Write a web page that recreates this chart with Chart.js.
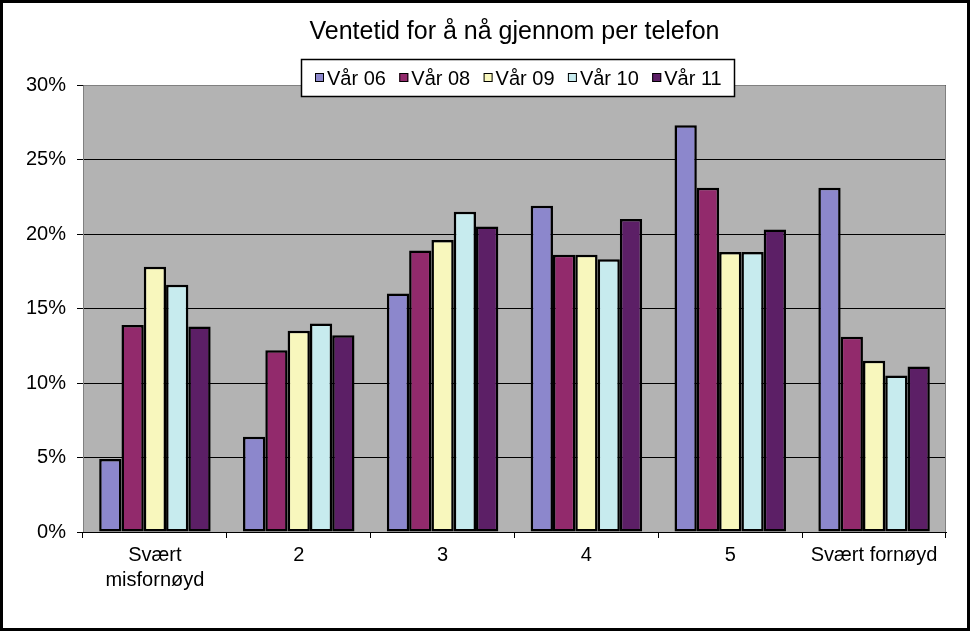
<!DOCTYPE html>
<html lang="no">
<head>
  <meta charset="UTF-8">
  <title>Ventetid for å nå gjennom per telefon</title>
  <style>
    * { margin:0; padding:0; box-sizing:border-box; }
    body { background:#fff; width:970px; height:631px; overflow:hidden; }
    #wrap { position:relative; width:970px; height:631px; }
  </style>
  <script src="https://cdn.jsdelivr.net/npm/chart.js"></script>
</head>
<body>
  <div id="wrap"><canvas id="chart" width="970" height="631"></canvas></div>

  <script>
    const titleText = 'Ventetid for å nå gjennom per telefon';
    const categories = [['Svært', 'misfornøyd'], '2', '3', '4', '5', 'Svært fornøyd'];
    const seriesNames = ['Vår 06', 'Vår 08', 'Vår 09', 'Vår 10', 'Vår 11'];
    const var06 = [4.9, 6.4, 16.0, 21.9, 27.3, 23.1];
    const var08 = [13.9, 12.2, 18.9, 18.6, 23.1, 13.1];
    const var09 = [17.8, 13.5, 19.6, 18.6, 18.8, 11.5];
    const var10 = [16.6, 14.0, 21.5, 18.3, 18.8, 10.5];
    const var11 = [13.8, 13.2, 20.5, 21.0, 20.3, 11.1];
    const colors = ['#8C87CC', '#922A6C', '#F8F7BD', '#C7EBEE', '#5C1F66'];

    const FONT = '"Liberation Sans", Arial, sans-serif';
    const allSeries = [var06, var08, var09, var10, var11];

    // plot background, title, legend box and outer frame
    const decor = {
      id: 'decor',
      beforeDraw(chart) {
        const { ctx, chartArea: a } = chart;
        ctx.save();
        ctx.fillStyle = '#fff';
        ctx.fillRect(0, 0, chart.width, chart.height);
        ctx.fillStyle = '#B3B3B3';
        ctx.fillRect(a.left, a.top, a.right - a.left, a.bottom - a.top);
        ctx.restore();
      },
      beforeDatasetsDraw(chart) {
        const { ctx, chartArea: a } = chart;
        ctx.save();
        ctx.strokeStyle = '#808080';
        ctx.lineWidth = 1;
        ctx.beginPath();
        ctx.moveTo(a.left + 0.5, a.bottom);
        ctx.lineTo(a.left + 0.5, a.top + 0.5);
        ctx.lineTo(a.right - 0.5, a.top + 0.5);
        ctx.lineTo(a.right - 0.5, a.bottom);
        ctx.stroke();
        ctx.restore();
      },
      afterDraw(chart) {
        const { ctx, chartArea: a } = chart;
        const cx = (a.left + a.right) / 2;
        ctx.save();
        ctx.fillStyle = '#000';
        ctx.textAlign = 'center';
        ctx.textBaseline = 'middle';
        ctx.font = '25px ' + FONT;
        ctx.fillText(titleText, cx, 32);

        // legend
        const bx = 301.5, by = 59.5, bw = 433, bh = 37;
        ctx.fillStyle = '#fff';
        ctx.fillRect(bx, by, bw, bh);
        ctx.strokeStyle = '#000';
        ctx.lineWidth = 1.5;
        ctx.strokeRect(bx, by, bw, bh);
        ctx.font = '20px ' + FONT;
        ctx.textAlign = 'left';
        chart.data.datasets.forEach((ds, i) => {
          const x = 315 + i * 84.3;
          ctx.fillStyle = ds.backgroundColor;
          ctx.fillRect(x, 73, 9, 9);
          ctx.lineWidth = 1;
          ctx.strokeRect(x + 0.5, 73.5, 8, 8);
          ctx.fillStyle = '#000';
          ctx.fillText(ds.label, x + 12, 79);
        });

        ctx.lineWidth = 3;
        ctx.strokeStyle = '#000';
        ctx.strokeRect(1.5, 1.5, chart.width - 3, chart.height - 3);
        ctx.restore();
      }
    };

    new Chart(document.getElementById('chart').getContext('2d'), {
      type: 'bar',
      data: {
        labels: categories,
        datasets: allSeries.map((d, i) => ({
          label: seriesNames[i],
          data: d,
          backgroundColor: colors[i],
          borderColor: '#000',
          borderWidth: 2.5,
          borderSkipped: false,
          categoryPercentage: 0.775,
          barPercentage: 1
        }))
      },
      options: {
        responsive: false,
        animation: false,
        layout: { padding: { top: 85, right: 24, left: 0, bottom: 0 } },
        plugins: { legend: { display: false }, title: { display: false }, tooltip: { enabled: false } },
        scales: {
          x: {
            afterFit: s => { s.height = 99; },
            grid: { offset: true, drawOnChartArea: false, drawTicks: true, tickLength: 6, color: '#000' },
            border: { color: '#000', width: 1 },
            ticks: { color: '#000', font: { family: FONT, size: 20, lineHeight: 1.25 }, padding: 5, maxRotation: 0, autoSkip: false }
          },
          y: {
            min: 0, max: 30,
            afterFit: s => { s.width = 83; },
            grid: { color: '#000', lineWidth: 1, tickLength: 6, drawTicks: true },
            border: { color: '#000', width: 1 },
            ticks: { stepSize: 5, color: '#000', padding: 11, font: { family: FONT, size: 20 }, callback: v => v + '%' }
          }
        }
      },
      plugins: [decor]
    });
  </script>
</body>
</html>
